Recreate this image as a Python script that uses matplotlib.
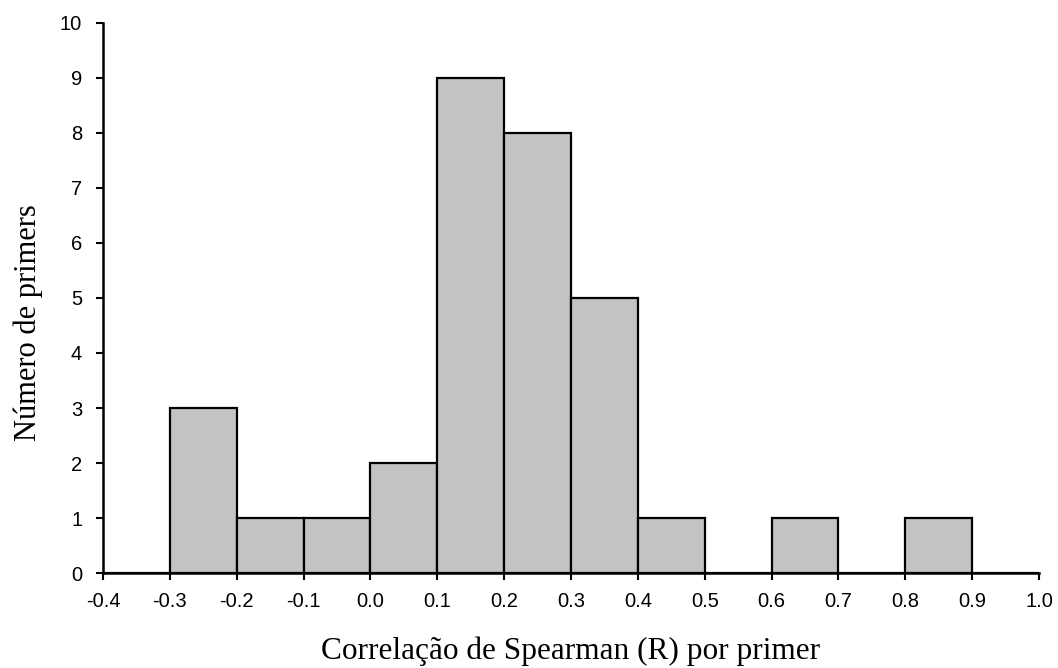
import matplotlib
matplotlib.use("Agg")
import matplotlib.pyplot as plt
import numpy as np

# histogram of Spearman correlation per primer
bin_edges = [-0.4, -0.3, -0.2, -0.1, 0.0, 0.1, 0.2, 0.3, 0.4, 0.5, 0.6, 0.7, 0.8, 0.9, 1.0]
counts = [0, 3, 1, 1, 2, 9, 8, 5, 1, 0, 1, 0, 1, 0]
x_ticks = [-0.4, -0.3, -0.2, -0.1, 0.0, 0.1, 0.2, 0.3, 0.4, 0.5, 0.6, 0.7, 0.8, 0.9, 1.0]
y_ticks = list(range(0, 11))

fig = plt.figure(figsize=(10.58, 6.68), dpi=100)
ax = fig.add_axes([0.0974, 0.1422, 0.8846, 0.8234])

lefts = np.array(bin_edges[:-1])
widths = np.diff(bin_edges)
ax.bar(lefts, counts, width=widths, align="edge",
       color="#c3c3c3", edgecolor="black", linewidth=1.6, zorder=3)

ax.set_xlim(-0.4, 1.0)
ax.set_ylim(0, 10)
ax.set_xticks(x_ticks)
ax.set_xticklabels([f"{v:.1f}" for v in x_ticks])
ax.set_yticks(y_ticks)

for side in ("top", "right"):
    ax.spines[side].set_visible(False)
for side in ("left", "bottom"):
    ax.spines[side].set_linewidth(1.8)
    ax.spines[side].set_color("black")

ax.tick_params(axis="both", direction="out", length=5, width=1.5,
               labelsize=14.5, colors="black")
ax.tick_params(axis="x", pad=9)
ax.tick_params(axis="y", pad=10)
for lab in ax.get_xticklabels() + ax.get_yticklabels():
    lab.set_family(["Liberation Sans", "DejaVu Sans"])

serif = ["Liberation Serif", "DejaVu Serif"]
ax.set_xlabel("Correlação de Spearman (R) por primer", family=serif, fontsize=22.5, va="center")
ax.set_ylabel("Número de primers", family=serif, fontsize=22, va="center")
ax.xaxis.set_label_coords(0.5, -0.143)
ax.yaxis.set_label_coords(-0.080, 0.456)

fig.savefig("out.png", dpi=100)
